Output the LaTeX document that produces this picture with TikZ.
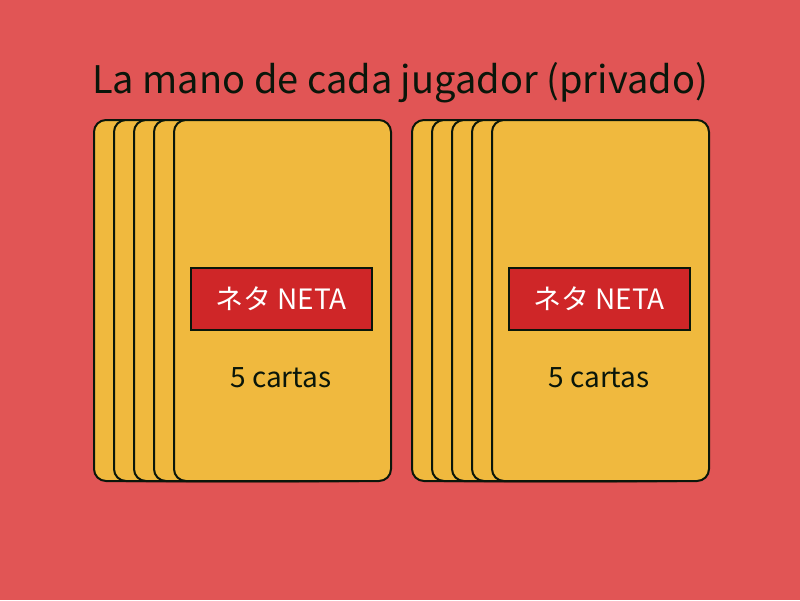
\documentclass[tikz,border=0pt]{standalone}
\usepackage{fontspec}
\setmainfont{Noto Sans CJK JP}
\definecolor{bgred}{RGB}{225,85,85}
\definecolor{cardyellow}{RGB}{240,185,62}
\definecolor{boxred}{RGB}{207,38,40}
\definecolor{edge}{RGB}{10,22,10}
\tikzset{
  card/.style={draw=edge, line width=2pt, fill=cardyellow, rounded corners=12pt,
    minimum width=217pt, minimum height=361pt, anchor=north west, inner sep=0pt},
  netabox/.style={draw=edge, line width=2pt, fill=boxred, text=white,
    minimum width=181pt, minimum height=62pt, inner sep=0pt, font=\fontsize{28}{32}\selectfont},
  count/.style={text=edge, anchor=base, inner sep=0pt, font=\fontsize{28}{32}\selectfont}
}
\begin{document}
\begin{tikzpicture}[x=1pt,y=-1pt]
\fill[bgred] (0,0) rectangle (800,600);
\useasboundingbox (0,0) rectangle (800,600);
\node (title) at (400,93) [anchor=base, text=edge, inner sep=0pt, font=\fontsize{38}{42}\selectfont] {La mano de cada jugador (privado)};

% first hand
\node (a1) at (93,119) [card] {};
\node (a2) at (113,119) [card] {};
\node (a3) at (133,119) [card] {};
\node (a4) at (153,119) [card] {};
\node (a5) at (173,119) [card] {};
\node (aneta) at (281,299) [netabox] {ネタ NETA};
\node (acount) at (281,387) [count] {5 cartas};

% second hand
\node (b1) at (411,119) [card] {};
\node (b2) at (431,119) [card] {};
\node (b3) at (451,119) [card] {};
\node (b4) at (471,119) [card] {};
\node (b5) at (491,119) [card] {};
\node (bneta) at (599,299) [netabox] {ネタ NETA};
\node (bcount) at (599,387) [count] {5 cartas};
\end{tikzpicture}
\end{document}
